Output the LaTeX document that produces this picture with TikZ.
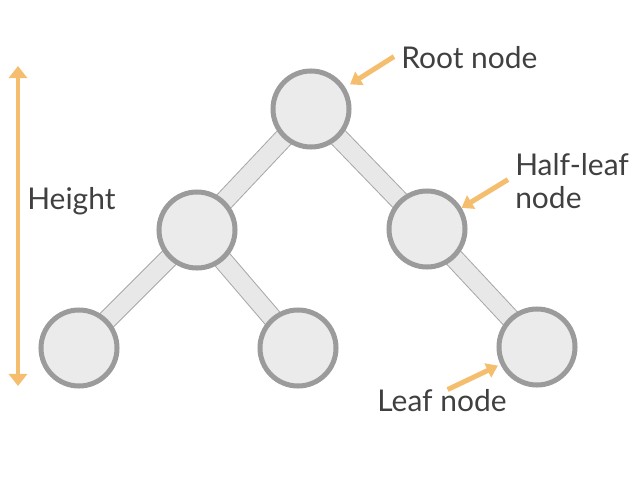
\documentclass[tikz,border=0pt]{standalone}
\usepackage{fontspec}
\setmainfont{Lato}
\usetikzlibrary{arrows.meta,backgrounds}
\definecolor{nodefill}{HTML}{EBEBEB}
\definecolor{nodeline}{HTML}{9B9B9B}
\definecolor{edgeline}{HTML}{A8A8A8}
\definecolor{edgefill}{HTML}{E8E8E8}
\definecolor{hint}{HTML}{F5BE6E}
\definecolor{txt}{HTML}{404040}

\begin{document}
\begin{tikzpicture}[x=0.025cm,y=-0.025cm,
    treenode/.style={circle,draw=nodeline,fill=nodefill,line width=1.25mm,minimum size=19mm,inner sep=0pt},
    branch/.style={draw=edgeline,line width=0.25mm,double=edgefill,double distance=4.5mm},
    lbl/.style={text=txt,font=\fontsize{21.3}{23}\selectfont,inner sep=0pt},
    pointer/.style={draw=hint,line width=1.25mm,-{Triangle[width=3.8mm,length=2.8mm]}}]
            \useasboundingbox (0,0) rectangle (640,480);

            % tree
            \node[treenode] (root) at (311,109) {};
            \node[treenode] (left) at (197,230) {};
            \node[treenode] (right) at (427,229) {};
            \node[treenode] (leafa) at (79,348) {};
            \node[treenode] (leafb) at (298,348) {};
            \node[treenode] (leafc) at (537,347) {};

            \begin{scope}[on background layer]
                \draw[branch] (root.center) -- (left.center);
                \draw[branch] (root.center) -- (right.center);
                \draw[branch] (left.center) -- (leafa.center);
                \draw[branch] (left.center) -- (leafb.center);
                \draw[branch] (right.center) -- (leafc.center);
            \end{scope}

            % height
            \coordinate (htop) at (18,66);
            \coordinate (hbot) at (18,386);
            \draw[draw=hint,line width=1.2mm,{Triangle[width=4.5mm,length=3mm]}-{Triangle[width=4.5mm,length=3mm]}] (htop) -- (hbot);
            \node[lbl,anchor=west] (heightlbl) at (27,201) {Height};

            % labels
            \node[lbl,anchor=west] (rootlbl) at (401,58) {Root node};
            \draw[pointer,shorten >=4pt] ([xshift=-5pt,yshift=1pt]rootlbl.west) -- (root);

            \node[lbl,anchor=west,align=left] (halflbl) at (515,181) {Half-leaf\\node};
            \draw[pointer,shorten >=0pt] ([xshift=-5pt,yshift=1pt]halflbl.west) -- (right);

            \node[lbl] (leaflbl) at (442,401) {Leaf node};
            \draw[pointer,shorten >=2pt] ([xshift=4pt]leaflbl.north) -- (leafc);
        \end{tikzpicture}
\end{document}
